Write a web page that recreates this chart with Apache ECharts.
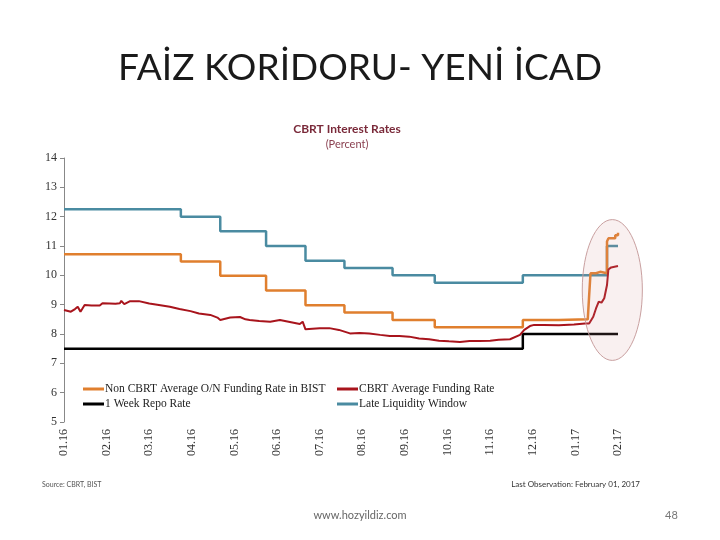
<!DOCTYPE html>
<html>
<head>
<meta charset="utf-8">
<script src="https://cdn.jsdelivr.net/npm/echarts/dist/echarts.min.js"></script>
<style>html,body{margin:0;padding:0;background:#fff;}#c{width:720px;height:540px;}</style>
</head>
<body>
<div id="c"></div>
<script>
const monthLabels = ['01.16','02.16','03.16','04.16','05.16','06.16','07.16','08.16','09.16','10.16','11.16','12.16','01.17','02.17'];

const nonCbrtOvernight = [
  ['2016-01-01',10.72],['2016-03-24',10.47],['2016-04-21',9.99],['2016-05-24',9.48],
  ['2016-06-21',8.98],['2016-07-19',8.73],['2016-08-23',8.48],['2016-09-22',8.23],
  ['2016-11-24',8.48],['2016-12-20',8.5],['2017-01-10',8.5],['2017-01-11',9.3],['2017-01-12',10.07],
  ['2017-01-16',10.12],['2017-01-19',10.07],['2017-01-24',11.15],['2017-01-25',11.26],
  ['2017-01-30',11.37],['2017-02-01',11.45]
];

const cbrtAvgFunding = [
  ['2016-01-01',8.82],['2016-01-06',8.76],['2016-01-09',8.85],['2016-01-11',8.93],['2016-01-13',8.76],
  ['2016-01-16',8.99],['2016-01-21',8.97],['2016-01-27',8.97],['2016-01-29',9.05],['2016-02-03',9.04],
  ['2016-02-07',9.03],['2016-02-10',9.05],['2016-02-11',9.13],['2016-02-13',9.02],['2016-02-17',9.12],
  ['2016-02-23',9.12],['2016-03-01',9.04],['2016-03-08',8.99],['2016-03-16',8.93],['2016-03-23',8.85],
  ['2016-03-31',8.78],['2016-04-06',8.70],['2016-04-14',8.65],['2016-04-19',8.56],['2016-04-21',8.48],
  ['2016-04-28',8.56],['2016-05-05',8.58],['2016-05-09',8.5],['2016-05-12',8.48],['2016-05-19',8.44],
  ['2016-05-27',8.42],['2016-06-03',8.48],['2016-06-10',8.41],['2016-06-17',8.34],['2016-06-19',8.42],
  ['2016-06-21',8.16],['2016-07-01',8.2],['2016-07-08',8.2],['2016-07-15',8.14],['2016-07-23',8.02],
  ['2016-07-30',8.03],['2016-08-06',8.02],['2016-08-14',7.97],['2016-08-21',7.93],['2016-08-28',7.93],
  ['2016-09-04',7.91],['2016-09-11',7.85],['2016-09-18',7.82],['2016-09-25',7.77],['2016-10-02',7.75],
  ['2016-10-10',7.73],['2016-10-17',7.76],['2016-10-24',7.76],['2016-11-01',7.77],['2016-11-07',7.8],
  ['2016-11-15',7.82],['2016-11-22',7.97],['2016-11-25',8.14],['2016-11-29',8.27],['2016-12-02',8.31],
  ['2016-12-09',8.31],['2016-12-20',8.3],['2016-12-31',8.32],['2017-01-08',8.36],['2017-01-11',8.36],
  ['2017-01-14',8.59],['2017-01-16',8.87],['2017-01-18',9.1],['2017-01-20',9.07],['2017-01-22',9.22],
  ['2017-01-23',9.27],['2017-01-24',9.67],['2017-01-25',10.2],['2017-01-27',10.27],['2017-02-01',10.32]
];

const weekRepo = [
  ['2016-01-01',7.5],['2016-11-24',8.0],['2017-02-01',8.0]
];

const lateLiquidityWindow = [
  ['2016-01-01',12.25],['2016-03-24',12.0],['2016-04-21',11.5],['2016-05-24',11.0],
  ['2016-06-21',10.5],['2016-07-19',10.25],['2016-08-23',10.0],['2016-09-22',9.75],
  ['2016-11-24',10.0],['2017-01-24',11.0],['2017-02-01',11.0]
];

// highlighted area (data coordinates: date range and value range)
const highlightRange = { from: '2017-01-06', to: '2017-02-17', high: 11.9, low: 7.1 };

function toMonthIndex(d) {
  const [y, m, dd] = d.split('-').map(Number);
  const dim = new Date(y, m, 0).getDate();
  return (y - 2016) * 12 + (m - 1) + (dd - 1) / dim;
}
const pts = arr => arr.map(([d, v]) => [toMonthIndex(d), v]);

const serif = 'Liberation Serif';
const chart = echarts.init(document.getElementById('c'), null, { renderer: 'canvas' });

const option = {
  backgroundColor: '#fff',
  animation: false,
  title: [
    { text: 'FAİZ KORİDORU- YENİ İCAD', left: 'center', top: 45,
      textStyle: { fontFamily: 'Lato', fontWeight: 'normal', fontSize: 37, color: '#1a1a1a' } },
    { text: 'CBRT Interest Rates', left: 342, textAlign: 'center', top: 118,
      textStyle: { fontFamily: 'Lato', fontWeight: 'bold', fontSize: 12, color: '#7a2a3a' } },
    { text: '(Percent)', left: 342, textAlign: 'center', top: 134,
      textStyle: { fontFamily: 'Lato', fontWeight: 'normal', fontSize: 11, color: '#8a4050' } }
  ],
  grid: { left: 64, top: 158, right: 102, bottom: 118, containLabel: false },
  legend: [
    { orient: 'vertical', left: 78, top: 378, itemGap: 3, itemWidth: 21, itemHeight: 3, icon: 'rect',
      data: ['Non CBRT Average O/N Funding Rate in BIST', '1 Week Repo Rate'],
      textStyle: { fontFamily: serif, fontSize: 11.5, color: '#222', padding: [0, 0, 0, -4] } },
    { orient: 'vertical', left: 332, top: 378, itemGap: 3, itemWidth: 21, itemHeight: 3, icon: 'rect',
      data: ['CBRT Average Funding Rate', 'Late Liquidity Window'],
      textStyle: { fontFamily: serif, fontSize: 11.5, color: '#222', padding: [0, 0, 0, -4] } }
  ],
  xAxis: {
    type: 'value', min: 0, max: monthLabels.length - 1, interval: 1,
    axisLine: { show: false }, axisTick: { show: false }, splitLine: { show: false },
    axisLabel: {
      rotate: 90, margin: 7, fontFamily: serif, fontSize: 12, color: '#333',
      formatter: v => monthLabels[Math.round(v)] || ''
    }
  },
  yAxis: {
    type: 'value', min: 5, max: 14, interval: 1,
    axisLine: { show: true, lineStyle: { color: '#888', width: 1 } },
    axisTick: { show: true, inside: false, length: 4, lineStyle: { color: '#888' } },
    splitLine: { show: false },
    axisLabel: { fontFamily: serif, fontSize: 12, color: '#333', margin: 7 }
  },
  series: [
    { name: 'Non CBRT Average O/N Funding Rate in BIST', type: 'line', step: 'end', showSymbol: false,
      data: pts(nonCbrtOvernight), lineStyle: { color: '#e07f2e', width: 2.5 }, itemStyle: { color: '#e07f2e' }, z: 3 },
    { name: '1 Week Repo Rate', type: 'line', step: 'end', showSymbol: false,
      data: pts(weekRepo), lineStyle: { color: '#000', width: 2.5 }, itemStyle: { color: '#000' }, z: 2 },
    { name: 'Late Liquidity Window', type: 'line', step: 'end', showSymbol: false,
      data: pts(lateLiquidityWindow), lineStyle: { color: '#4a8ba1', width: 2.5 }, itemStyle: { color: '#4a8ba1' }, z: 2 },
    { name: 'CBRT Average Funding Rate', type: 'line', showSymbol: false,
      data: pts(cbrtAvgFunding), lineStyle: { color: '#a8141c', width: 2 }, itemStyle: { color: '#a8141c' }, z: 4 }
  ]
};
chart.setOption(option);

const p1 = chart.convertToPixel({ gridIndex: 0 }, [toMonthIndex(highlightRange.from), highlightRange.high]);
const p2 = chart.convertToPixel({ gridIndex: 0 }, [toMonthIndex(highlightRange.to), highlightRange.low]);

chart.setOption({
  graphic: [
    { type: 'ellipse', z: 100, silent: true,
      shape: { cx: (p1[0] + p2[0]) / 2, cy: (p1[1] + p2[1]) / 2, rx: (p2[0] - p1[0]) / 2, ry: (p2[1] - p1[1]) / 2 },
      style: { fill: 'rgba(215,150,150,0.14)', stroke: '#c9a0a0', lineWidth: 1 } },
    { type: 'text', left: 42, top: 481, style: { text: 'Source: CBRT, BIST', font: '7px Lato', fill: '#555' } },
    { type: 'text', right: 80, top: 480, style: { text: 'Last Observation: February 01, 2017', font: '8px Lato', fill: '#333' } },
    { type: 'text', left: 'center', top: 510, style: { text: 'www.hozyildiz.com', font: '11px Lato', fill: '#666' } },
    { type: 'text', left: 665, top: 510, style: { text: '48', font: '11px Lato', fill: '#777' } }
  ]
});
</script>
</body>
</html>
